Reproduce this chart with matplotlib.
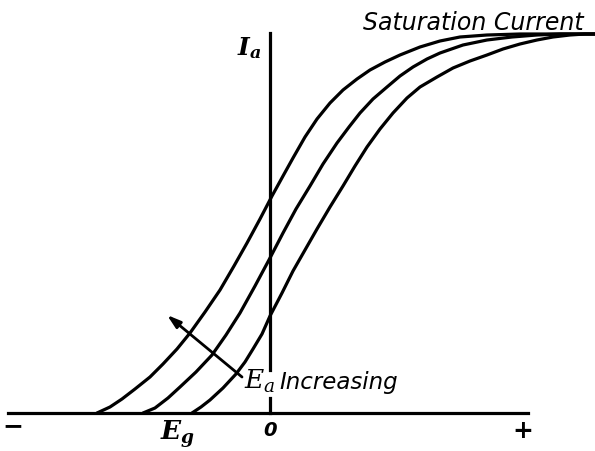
import matplotlib
matplotlib.use('Agg')
import matplotlib.pyplot as plt

plt.rcParams['mathtext.fontset'] = 'dejavuserif'

# grid voltage E_g (arbitrary units) and plate current I_a (arbitrary units)
# one curve per plate voltage, lowest E_a on the right
eg_1 = [-17.3, -16.0, -14.8, -13.5, -12.0, -10.7, -9.3, -8.0, -6.5, -5.0, -3.6, -2.3, -1.0, 0.2,
        1.3, 2.3, 3.5, 4.7, 6.0, 7.3, 8.7, 10.0, 11.5, 13.0, 15.0, 17.0, 19.0, 21.7, 25.0, 32.5]
ia_1 = [0.0, 0.6, 1.4, 2.4, 3.6, 4.9, 6.4, 8.0, 10.1, 12.3, 14.7, 17.0, 19.4, 21.7,
        23.7, 25.5, 27.6, 29.4, 31.0, 32.3, 33.4, 34.3, 35.1, 35.8, 36.6, 37.2, 37.6, 37.8, 37.9, 37.9]

eg_2 = [-12.7, -11.5, -10.2, -9.0, -7.4, -5.8, -4.4, -3.0, -1.5, 0.0, 1.3, 2.6, 4.0, 5.3, 6.7,
        7.9, 9.0, 10.3, 11.7, 13.0, 14.3, 15.7, 17.0, 19.3, 21.7, 24.2, 26.7, 29.0, 32.5]
ia_2 = [0.0, 0.5, 1.5, 2.6, 4.1, 5.8, 7.8, 10.0, 12.7, 15.5, 18.0, 20.4, 22.7, 24.9, 27.0,
        28.6, 30.0, 31.4, 32.6, 33.7, 34.6, 35.4, 36.0, 36.8, 37.3, 37.6, 37.8, 37.9, 37.9]

eg_3 = [-7.8, -6.9, -6.0, -4.7, -3.4, -2.5, -1.7, -0.8, 0.0, 1.2, 2.3, 3.5, 4.7, 6.0, 7.3, 8.5,
        9.7, 11.0, 12.3, 13.7, 15.0, 16.7, 18.3, 20.0, 21.7, 23.3, 25.0, 26.7, 28.3, 30.0, 31.5, 32.5]
ia_3 = [0.0, 0.6, 1.3, 2.5, 3.9, 5.1, 6.4, 7.9, 9.7, 12.0, 14.2, 16.3, 18.4, 20.6, 22.7, 24.7,
        26.6, 28.4, 30.0, 31.5, 32.6, 33.6, 34.5, 35.2, 35.8, 36.4, 36.9, 37.3, 37.6, 37.8, 37.9, 37.9]

curves = [(eg_1, ia_1), (eg_2, ia_2), (eg_3, ia_3)]

fig = plt.figure(figsize=(5.95, 4.52), dpi=100)
ax = fig.add_axes([0, 0, 1, 1])
ax.set_xlim(-27, 32.5)
ax.set_ylim(-3.8, 41.4)
ax.axis('off')

lw = 2.3
for x, y in curves:
    ax.plot(x, y, color='black', lw=lw, solid_joinstyle='round', solid_capstyle='round')

# hand drawn axes of the sketch
ax.plot([-26.2, 25.8], [0, 0], color='black', lw=lw)
ax.plot([0, 0], [4.3, 38.0], color='black', lw=lw)
ax.plot([0, 0], [0, 1.5], color='black', lw=lw)

ax.annotate('', xy=(-10.3, 9.8), xytext=(-2.8, 3.6),
            arrowprops=dict(arrowstyle='-|>,head_length=0.8,head_width=0.25',
                            color='black', lw=2.0, shrinkA=0, shrinkB=0))

ax.text(-0.8, 36.6, r'$\mathbfit{I}_{\mathbfit{a}}$', fontsize=18, ha='right', va='center')
ax.text(9.3, 38.4, 'Saturation Current', fontsize=17, style='italic', ha='left', va='baseline')
ax.text(-2.6, 2.5, '$E_a$', fontsize=19, ha='left', va='baseline')
ax.text(0.9, 2.5, 'Increasing', fontsize=16.5, style='italic', ha='left', va='baseline')
ax.text(-25.7, -1.2, '\u2212', fontsize=18, fontweight='bold', ha='center', va='center')
ax.text(-9.2, -2.0, r'$\mathbfit{E}_{\mathbfit{g}}$', fontsize=19, ha='center', va='center')
ax.text(0, -1.7, '0', fontsize=14, style='italic', fontweight='bold', ha='center', va='center')
ax.text(25.3, -1.7, '+', fontsize=18, fontweight='bold', ha='center', va='center')

fig.savefig('out.png', dpi=100, facecolor='white')
